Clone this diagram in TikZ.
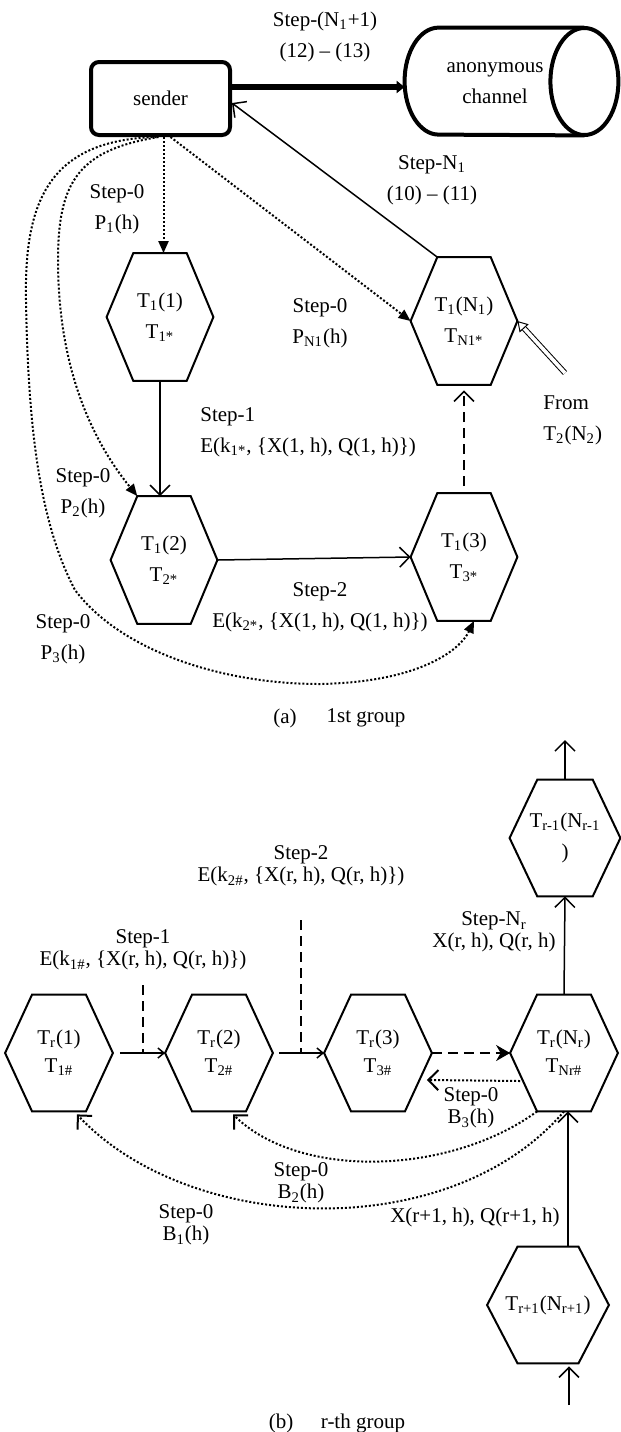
\documentclass[tikz,border=0pt]{standalone}
\usepackage{fontspec}
\setmainfont{Liberation Serif}
\usetikzlibrary{arrows.meta,calc}
\newcommand\sbs[1]{\textsubscript{#1}}
\newcommand\hexdraw[1]{\draw[hexline] (#1.west) -- ($(#1.north west)!0.25!(#1.north east)$) -- ($(#1.north west)!0.75!(#1.north east)$) -- (#1.east) -- ($(#1.south west)!0.75!(#1.south east)$) -- ($(#1.south west)!0.25!(#1.south east)$) -- cycle;}
\begin{document}
\begin{tikzpicture}[x=0.5pt,y=-0.5pt,
  lbl/.style={font=\fontsize{10.5}{15.5}\selectfont, align=center, inner sep=0pt},
  lblb/.style={font=\fontsize{10.5}{11}\selectfont, align=center, inner sep=0pt},
  hexa/.style={minimum width=53pt, minimum height=63.5pt, inner sep=0pt, align=center, font=\fontsize{10.5}{15.5}\selectfont},
  hexb/.style={minimum width=53.5pt, minimum height=58pt, inner sep=0pt, align=center, font=\fontsize{10.5}{14}\selectfont},
  hexline/.style={line width=1pt, line join=miter},
  sendbox/.style={draw, rounded corners=4pt, line width=2pt, minimum width=69.5pt, minimum height=36.5pt, font=\fontsize{10.5}{12}\selectfont},
  cylbox/.style={minimum width=106.5pt, minimum height=53.5pt, inner sep=0pt},
  conn/.style={line width=0.75pt},
  vtip/.style={-{Straight Barb[length=5pt,width=10pt]}},
  stip/.style={-{Straight Barb[length=3pt,width=5pt]}},
  ftip/.style={-{Triangle[length=6pt,width=5pt]}},
  dots/.style={line width=1pt, dash pattern=on 1pt off 1pt},
  dsh/.style={dash pattern=on 5pt off 3pt}]
\useasboundingbox (0,0) rectangle (621,1432);

% ---------- part (a)
\node[sendbox] (sender) at (160.5,98.5) {sender};
\node[cylbox] (chan) at (511.5,81.5) {};
\draw[line width=2pt] ($(chan.north east)+(-34,0)$) -- ($(chan.north west)+(34,0)$) arc[start angle=90,end angle=270,x radius=17pt,y radius=26.75pt] -- ($(chan.south east)+(-34,0)$);
\draw[line width=2pt] ($(chan.east)+(-34,0)$) ellipse[x radius=17pt,y radius=26.75pt];
\node[lbl] (chantxt) at (495,83) {anonymous\\channel};
\draw[line width=3pt, -{Triangle[length=4pt,width=6pt]}] ([yshift=5.75pt]sender.east) -- ([yshift=5.75pt]sender.east -| chan.west);
\node[lbl] (lN1p1) at (325,36.5) {Step-(N\sbs{1}+1)\\(12) -- (13)};

\node[hexa] (T11) at (160,317) {T\sbs{1}(1)\\T\sbs{1*}}; \hexdraw{T11}
\node[hexa] (T1N) at (464,321) {T\sbs{1}(N\sbs{1})\\T\sbs{N1*}}; \hexdraw{T1N}
\node[hexa] (T12) at (164,560) {T\sbs{1}(2)\\T\sbs{2*}}; \hexdraw{T12}
\node[hexa] (T13) at (464,557) {T\sbs{1}(3)\\T\sbs{3*}}; \hexdraw{T13}

\draw[conn, vtip] ($(T1N.north west)!0.25!(T1N.north east)$) -- ([yshift=-2.25pt]sender.east);
\draw[dots, ftip] ([xshift=1.5pt]sender.south) -- ([xshift=1.5pt]sender.south |- T11.north);
\draw[dots, ftip] ([xshift=5pt]sender.south) -- (T1N.west);
\draw[dots, ftip] ([xshift=-1pt]sender.south) .. controls (80,150) and (58,180) .. (58,260) .. controls (58,380) and (100,450) .. ($(T12.north west)!0.25!(T12.north east)$);
\draw[dots, ftip] ([xshift=-2pt]sender.south) .. controls (50,140) and (24,200) .. (26,300) .. controls (28,420) and (38,520) .. (75,590) .. controls (120,650) and (220,684) .. (320,684) .. controls (420,682) and (460,650) .. ($(T13.south)+(10,0)$);
\draw[conn, vtip] (T11.south) -- (T11.south |- T12.north);
\draw[conn, vtip] (T12.east) -- (T13.west);
\draw[conn, dsh, vtip] ([yshift=3.5pt]T13.north) -- ([yshift=-2.75pt]T1N.south);
\coordinate (fromT2) at (565,373);
\draw[double, double distance=1.8pt, line width=0.5pt, -{Triangle[open,length=5pt,width=6pt]}] (fromT2) -- (T1N.east);

\node[lbl, align=left, anchor=west] (fromlbl) at (543,420) {From\\T\sbs{2}(N\sbs{2})};
\node[lbl] (s0a) at (117,209) {Step-0\\P\sbs{1}(h)};
\node[lbl] (s0n) at (320,323) {Step-0\\P\sbs{N1}(h)};
\node[lbl] (sN1) at (432,180) {Step-N\sbs{1}\\(10) -- (11)};
\node[lbl, align=left, anchor=west] (s1a) at (200,432) {Step-1\\E(k\sbs{1*}, \{X(1, h), Q(1, h)\})};
\node[lbl] (s0b) at (83,493) {Step-0\\P\sbs{2}(h)};
\node[lbl] (s2a) at (320,607) {Step-2\\E(k\sbs{2*}, \{X(1, h), Q(1, h)\})};
\node[lbl] (s0c) at (63,639) {Step-0\\P\sbs{3}(h)};
\node[lbl] (capa1) at (285,718) {(a)};
\node[lbl] (capa2) at (366,718) {1st group};

% ---------- part (b)
\node[hexb] (Tr1) at (59,1053) {T\sbs{r}(1)\\T\sbs{1\#}}; \hexdraw{Tr1}
\node[hexb] (Tr2) at (219,1053) {T\sbs{r}(2)\\T\sbs{2\#}}; \hexdraw{Tr2}
\node[hexb] (Tr3) at (378,1053) {T\sbs{r}(3)\\T\sbs{3\#}}; \hexdraw{Tr3}
\node[hexb] (TrN) at (564,1053) {T\sbs{r}(N\sbs{r})\\T\sbs{Nr\#}}; \hexdraw{TrN}
\node[hexb, minimum width=55pt, font=\fontsize{10.5}{15.5}\selectfont] (Trm) at (565,838) {T\sbs{r-1}(N\sbs{r-1}\\)}; \hexdraw{Trm}
\node[hexb, minimum width=60.5pt] (Trp) at (548,1305) {T\sbs{r+1}(N\sbs{r+1})}; \hexdraw{Trp}

\draw[conn, stip, shorten <=3.5pt] (Tr1.east) -- (Tr2.west);
\draw[conn, stip, shorten <=3pt] (Tr2.east) -- (Tr3.west);
\coordinate (d1) at (143,985);
\draw[conn, dsh] (d1) -- (d1 |- Tr1.east);
\coordinate (d2) at (301,920);
\draw[conn, dsh] (d2) -- (d2 |- Tr2.east);
\draw[line width=1pt, dsh, -{Stealth[length=7pt,width=8pt]}] (Tr3.east) -- (TrN.west);
\draw[conn, vtip] (TrN.north) -- (Trm.south);
\coordinate (tout) at (565,740);
\draw[conn, vtip] (Trm.north) -- (tout);
\draw[conn, vtip] ([xshift=10pt]Trp.north) -- ([xshift=10pt]Trp.north |- TrN.south);
\coordinate (bin) at (569,1405);
\draw[conn, vtip, shorten >=1.5pt] (bin) -- (bin |- Trp.south);

\draw[dots, vtip] ($(TrN.west)+(10,28)$) -- ($(Tr3.east)+(-5,27)$);
\draw[dots, vtip] ($(TrN.south west)!0.25!(TrN.south east)$) .. controls (450,1175) and (300,1180) .. ($(Tr2.south)+(14,3)$);
\draw[dots, vtip] (TrN.south) .. controls (450,1245) and (190,1235) .. ($(Tr1.south)+(18,3)$);

\node[lblb] (s2b) at (301,866) {Step-2\\E(k\sbs{2\#}, \{X(r, h), Q(r, h)\})};
\node[lblb] (s1b) at (143,950) {Step-1\\E(k\sbs{1\#}, \{X(r, h), Q(r, h)\})};
\node[lblb] (sNr) at (494,932) {Step-N\sbs{r}\\X(r, h), Q(r, h)};
\node[lblb] (b3) at (471,1108) {Step-0\\B\sbs{3}(h)};
\node[lblb] (b2) at (301,1183) {Step-0\\B\sbs{2}(h)};
\node[lblb] (b1) at (186,1225) {Step-0\\B\sbs{1}(h)};
\node[lblb] (xr1) at (475,1217) {X(r+1, h), Q(r+1, h)};
\node[lbl] (capb1) at (281,1423) {(b)};
\node[lbl] (capb2) at (363,1423) {r-th group};
\end{tikzpicture}
\end{document}
